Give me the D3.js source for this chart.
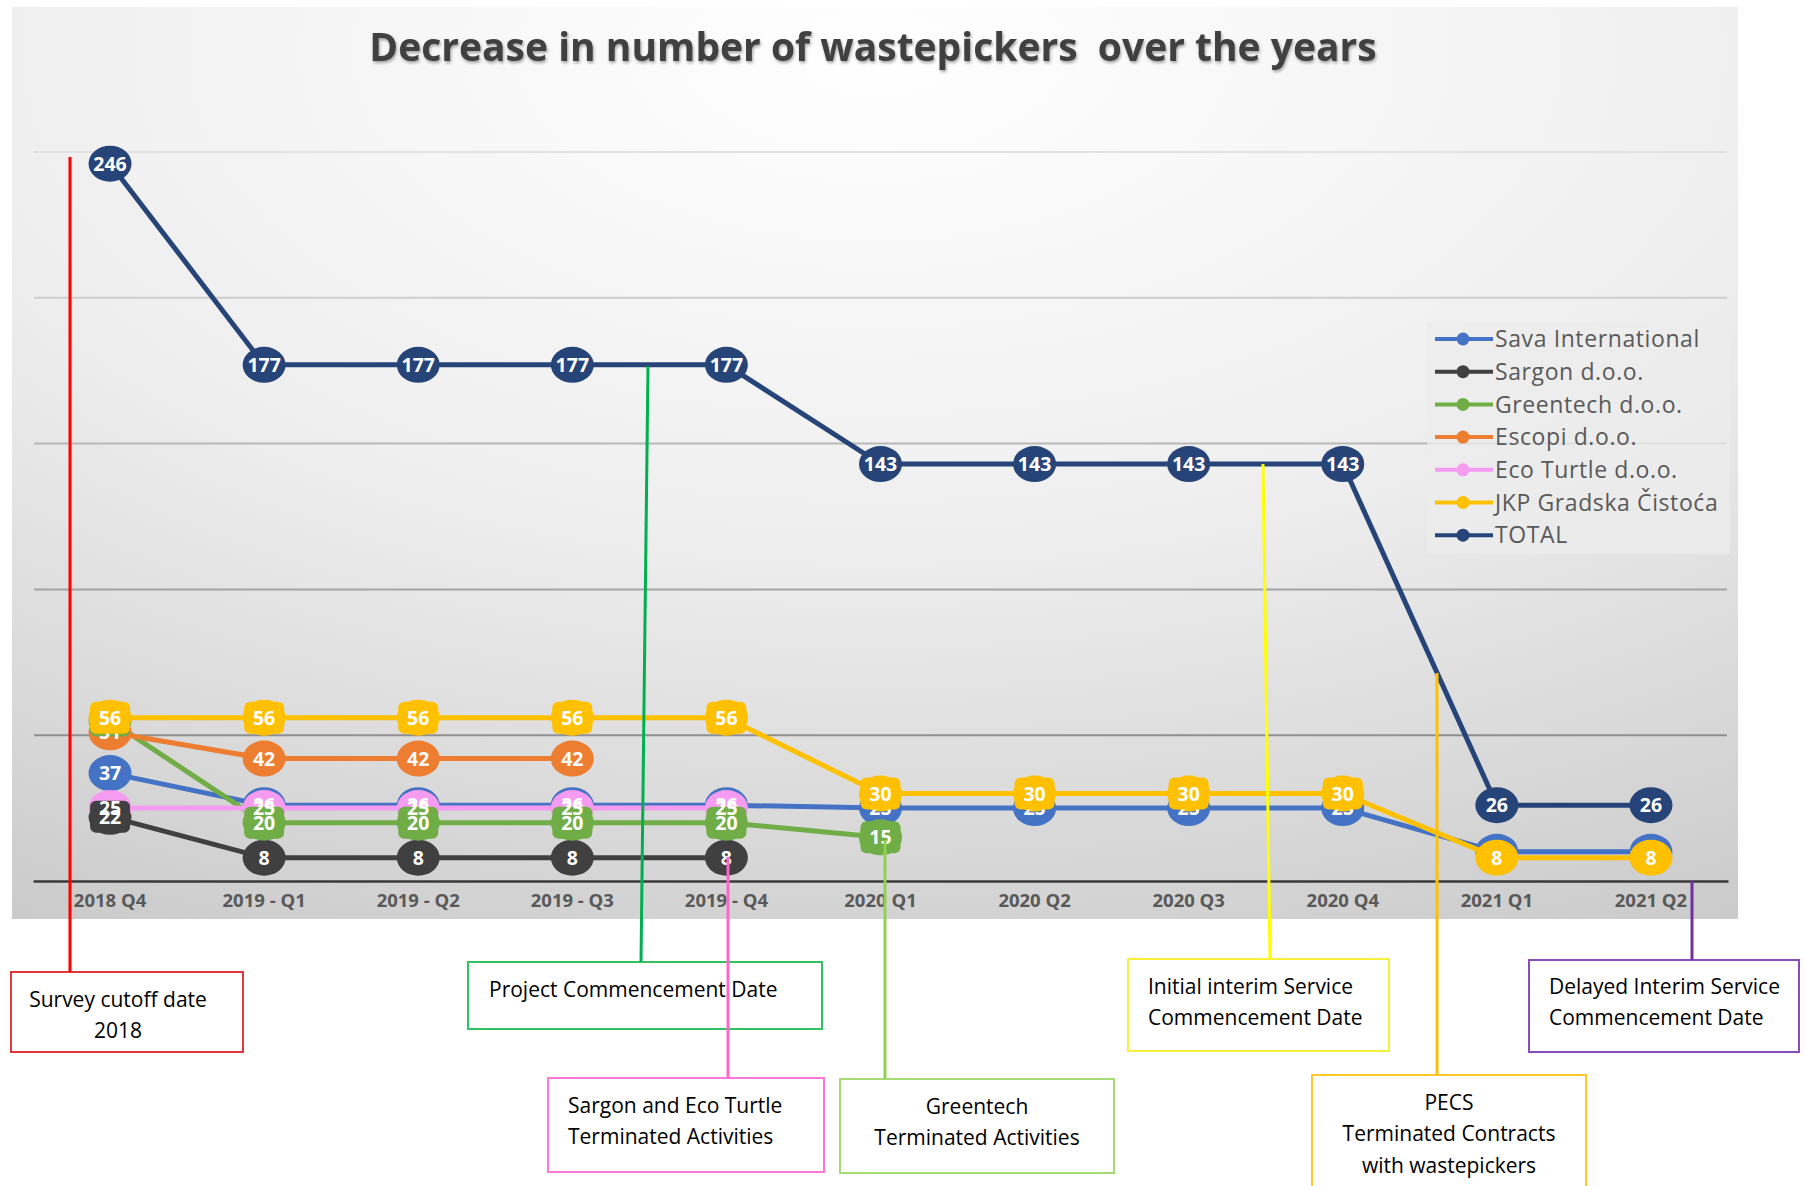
<!DOCTYPE html>
<html>
<head>
<meta charset="utf-8">
<script src="https://cdnjs.cloudflare.com/ajax/libs/d3/7.8.5/d3.min.js"></script>
<style>
body { margin: 0; background: #fff; }
svg { display: block; font-family: "Open Sans", sans-serif; }
</style>
</head>
<body>
<script>
// data
const quarters = ["2018 Q4", "2019 - Q1", "2019 - Q2", "2019 - Q3", "2019 - Q4",
  "2020 Q1", "2020 Q2", "2020 Q3", "2020 Q4", "2021 Q1", "2021 Q2"];
const seriesNames = ["Sava International", "Sargon d.o.o.", "Greentech d.o.o.",
  "Escopi d.o.o.", "Eco Turtle d.o.o.", "JKP Gradska Čistoća", "TOTAL"];
const sava      = [37, 26, 26, 26, 26, 25, 25, 25, 25, 10, 10];
const sargon    = [22, 8, 8, 8, 8, null, null, null, null, null, null];
const greentech = [55, 20, 20, 20, 20, 15, null, null, null, null, null];
const escopi    = [51, 42, 42, 42, null, null, null, null, null, null, null];
const ecoTurtle = [25, 25, 25, 25, 25, null, null, null, null, null, null];
const jkp       = [56, 56, 56, 56, 56, 30, 30, 30, 30, 8, 8];
const total     = [246, 177, 177, 177, 177, 143, 143, 143, 143, 26, 26];
const yTicks = [50, 100, 150, 200, 250];
const title = "Decrease in number of wastepickers  over the years";
const noteTexts = [
  ["Survey cutoff date", "2018"],
  ["Project Commencement Date"],
  ["Sargon and Eco Turtle", "Terminated Activities"],
  ["Greentech", "Terminated Activities"],
  ["Initial interim Service", "Commencement Date"],
  ["PECS", "Terminated Contracts", "with wastepickers"],
  ["Delayed Interim Service", "Commencement Date"]
];

const colors = ["#4472C4", "#404040", "#70AD47", "#ED7D31", "#F59CF0", "#FFC000", "#264478"];
const boxed = [false, true, true, false, false, true, false]; // labels drawn with a filled box
const allValues = [sava, sargon, greentech, escopi, ecoTurtle, jkp, total];

const W = 1805, H = 1186;
const svg = d3.select("body").append("svg").attr("width", W).attr("height", H);
const defs = svg.append("defs");

const bg = defs.append("radialGradient").attr("id", "bg")
  .attr("cx", "0.5").attr("cy", "0.05").attr("r", "1.2");
bg.append("stop").attr("offset", "0").attr("stop-color", "#ffffff");
bg.append("stop").attr("offset", "0.45").attr("stop-color", "#eeeeee");
bg.append("stop").attr("offset", "1").attr("stop-color", "#c2c2c2");

const gridGrad = defs.append("linearGradient").attr("id", "gridg")
  .attr("gradientUnits", "userSpaceOnUse").attr("x1", 0).attr("x2", 0).attr("y1", 150).attr("y2", 740);
gridGrad.append("stop").attr("offset", "0").attr("stop-color", "#e2e2e2");
gridGrad.append("stop").attr("offset", "1").attr("stop-color", "#8e8e8e");

const shadow = defs.append("filter").attr("id", "shadow").attr("x", "-5%").attr("y", "-20%")
  .attr("width", "110%").attr("height", "160%");
shadow.append("feDropShadow").attr("dx", 1).attr("dy", 2).attr("stdDeviation", 1.5)
  .attr("flood-color", "#000").attr("flood-opacity", 0.35);

// chart panel
svg.append("rect").attr("x", 12).attr("y", 7).attr("width", 1726).attr("height", 912)
  .attr("fill", "url(#bg)");

svg.append("text").attr("x", 873).attr("y", 61).attr("text-anchor", "middle")
  .attr("font-size", 39).attr("font-weight", "bold").attr("fill", "#404040")
  .attr("filter", "url(#shadow)").style("white-space", "pre")
  .text(title);

const x = d3.scaleBand().domain(quarters).range([33, 1728]).padding(0);
const cx = q => x(q) + x.bandwidth() / 2;
const y = d3.scaleLinear().domain([0, 250]).range([881, 152]);

svg.append("g").selectAll("line").data(yTicks).join("line")
  .attr("x1", 34).attr("x2", 1727)
  .attr("y1", d => y(d)).attr("y2", d => y(d))
  .attr("stroke", "url(#gridg)").attr("stroke-width", 2);

const xAxis = svg.append("g").attr("transform", `translate(0,${y(0)})`)
  .call(d3.axisBottom(x).tickSize(0).tickPadding(13));
xAxis.select(".domain").attr("stroke", "#3a3a3a").attr("stroke-width", 2.5);
xAxis.selectAll("text").attr("font-family", "Open Sans").attr("font-size", 18.5)
  .attr("font-weight", "bold").attr("fill", "#595959");

const series = seriesNames.map((name, i) => ({
  name, color: colors[i], boxed: boxed[i],
  points: allValues[i].map((v, j) => ({ q: quarters[j], v })).filter(p => p.v != null)
}));

const line = d3.line().x(d => cx(d.q)).y(d => y(d.v));

const plot = svg.append("g");
series.forEach(s => {
  plot.append("path").datum(s.points).attr("d", line)
    .attr("fill", "none").attr("stroke", s.color).attr("stroke-width", 5)
    .attr("stroke-linejoin", "round");
  plot.selectAll(null).data(s.points).join("ellipse")
    .attr("cx", d => cx(d.q)).attr("cy", d => y(d.v))
    .attr("rx", 21.5).attr("ry", 18).attr("fill", s.color);
});

// data labels on top of all the lines
const labels = svg.append("g");
series.forEach(s => {
  if (s.boxed) {
    labels.selectAll(null).data(s.points).join("rect")
      .attr("x", d => cx(d.q) - (String(d.v).length * 12 + 16) / 2)
      .attr("y", d => y(d.v) - 16)
      .attr("width", d => String(d.v).length * 12 + 16).attr("height", 32)
      .attr("rx", 6).attr("fill", s.color);
  }
  labels.selectAll(null).data(s.points).join("text")
    .attr("x", d => cx(d.q)).attr("y", d => y(d.v)).attr("dy", "0.36em")
    .attr("text-anchor", "middle").attr("font-size", 19.5).attr("font-weight", "bold")
    .attr("fill", "#fff").text(d => d.v);
});

// legend
const legend = svg.append("g");
legend.append("rect").attr("x", 1427).attr("y", 322).attr("width", 303).attr("height", 232)
  .attr("fill", "#ececec").attr("opacity", 0.75);
const li = legend.selectAll("g").data(series).join("g")
  .attr("transform", (d, i) => `translate(0,${339 + i * 32.7})`);
li.append("line").attr("x1", 1435).attr("x2", 1493).attr("stroke", d => d.color).attr("stroke-width", 4);
li.append("circle").attr("cx", 1463).attr("r", 6.5).attr("fill", d => d.color);
li.append("text").attr("x", 1495).attr("dy", "0.36em").attr("font-size", 23)
  .attr("letter-spacing", 0.6).attr("fill", "#595959").text(d => d.name);

// annotation call-outs
const noteLayout = [
  { color: "#ff0000", box: "#e0363c", line: [[70, 157], [70, 972]], rect: [11, 972, 232, 80], anchor: "middle", tx: 118, ty: 999 },
  { color: "#00b050", box: "#33c060", line: [[648, 366], [641, 962]], rect: [468, 962, 354, 67], anchor: "start", tx: 489, ty: 989 },
  { color: "#ff66cc", box: "#ff77d6", line: [[728, 857], [728, 1078]], rect: [548, 1078, 276, 94], anchor: "start", tx: 568, ty: 1105 },
  { color: "#92d050", box: "#a6da72", line: [[885, 840], [885, 1079]], rect: [840, 1079, 274, 94], anchor: "middle", tx: 977, ty: 1106 },
  { color: "#ffff00", box: "#f6f03a", line: [[1263, 464], [1270, 959]], rect: [1128, 959, 261, 92], anchor: "start", tx: 1148, ty: 986 },
  { color: "#ffc000", box: "#ffc72a", line: [[1437, 673], [1437, 1075]], rect: [1312, 1075, 274, 130], anchor: "middle", tx: 1449, ty: 1102 },
  { color: "#7030a0", box: "#8a4cc0", line: [[1692, 881], [1692, 960]], rect: [1529, 960, 270, 92], anchor: "start", tx: 1549, ty: 986 }
];
const notes = svg.append("g");
noteTexts.forEach((lines, i) => {
  const n = noteLayout[i];
  notes.append("rect").attr("x", n.rect[0]).attr("y", n.rect[1])
    .attr("width", n.rect[2]).attr("height", n.rect[3])
    .attr("fill", "#fff").attr("stroke", n.box).attr("stroke-width", 2);
  notes.append("line").attr("x1", n.line[0][0]).attr("y1", n.line[0][1])
    .attr("x2", n.line[1][0]).attr("y2", n.line[1][1])
    .attr("stroke", n.color).attr("stroke-width", 3);
  notes.selectAll(null).data(lines).join("text")
    .attr("x", n.tx).attr("y", (d, k) => n.ty + k * 31.5).attr("dy", "0.36em")
    .attr("text-anchor", n.anchor).attr("font-size", 21).attr("fill", "#000")
    .text(d => d);
});
</script>
</body>
</html>
